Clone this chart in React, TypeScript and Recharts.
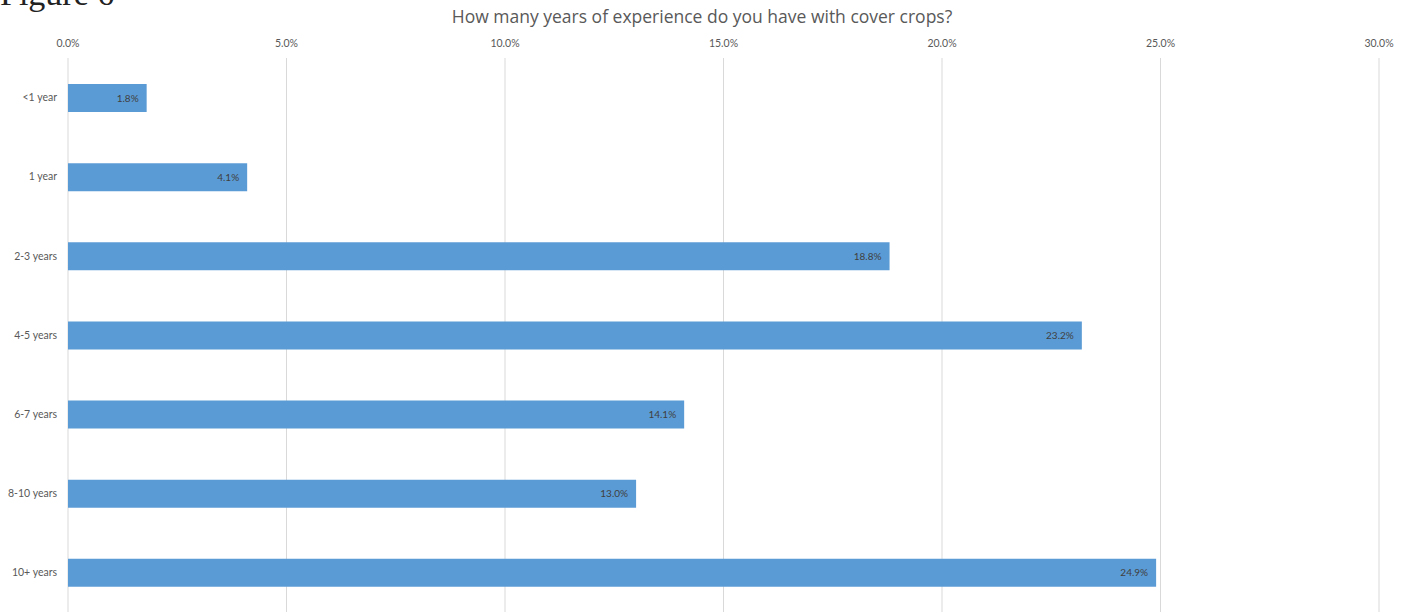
import { BarChart, Bar, XAxis, YAxis, CartesianGrid, LabelList } from 'recharts';

const categories = ['<1 year', '1 year', '2-3 years', '4-5 years', '6-7 years', '8-10 years', '10+ years'];
const shares = [1.8, 4.1, 18.8, 23.2, 14.1, 13.0, 24.9];
const xTicks = [0, 5, 10, 15, 20, 25, 30];

const data = categories.map((name, i) => ({ name, value: shares[i] }));

const pct = (v: number) => `${v.toFixed(1)}%`;

export default function App() {
  return (
    <div style={{ position: 'absolute', left: 0, top: 0, width: 1402, height: 612, overflow: 'hidden', background: '#fff' }}>
      <div
        style={{
          position: 'absolute',
          left: 0,
          top: -23,
          fontFamily: '"Liberation Serif", serif',
          fontSize: 34,
          lineHeight: '34px',
          color: '#222',
        }}
      >
        Figure 6
      </div>
      <div
        style={{
          position: 'absolute',
          left: 0,
          top: 4,
          width: 1404,
          textAlign: 'center',
          fontFamily: '"Open Sans", sans-serif',
          fontSize: 17.5,
          color: '#595959',
        }}
      >
        How many years of experience do you have with cover crops?
      </div>
      <BarChart
        width={1402}
        height={612}
        data={data}
        layout="vertical"
        margin={{ top: 0, right: 23, bottom: 0, left: 0 }}
        barSize={28}
      >
        <CartesianGrid horizontal={false} stroke="#d9d9d9" />
        <XAxis
          type="number"
          orientation="top"
          domain={[0, 30]}
          ticks={xTicks}
          tickFormatter={pct}
          height={58}
          axisLine={false}
          tickLine={false}
          tickSize={0}
          tickMargin={11}
          tick={{ fontSize: 10.5, fill: '#595959', fontFamily: 'Lato, sans-serif' }}
        />
        <YAxis
          type="category"
          dataKey="name"
          width={68}
          axisLine={false}
          tickLine={false}
          tickSize={0}
          tickMargin={11}
          tick={{ fontSize: 10.5, fill: '#595959', fontFamily: 'Lato, sans-serif' }}
        />
        <Bar dataKey="value" fill="#5b9bd5" isAnimationActive={false}>
          <LabelList
            dataKey="value"
            position="insideRight"
            offset={8}
            formatter={(v: number) => pct(v)}
            style={{ fontSize: 10, fill: '#404040', fontFamily: 'Lato, sans-serif' }}
          />
        </Bar>
      </BarChart>
    </div>
  );
}
